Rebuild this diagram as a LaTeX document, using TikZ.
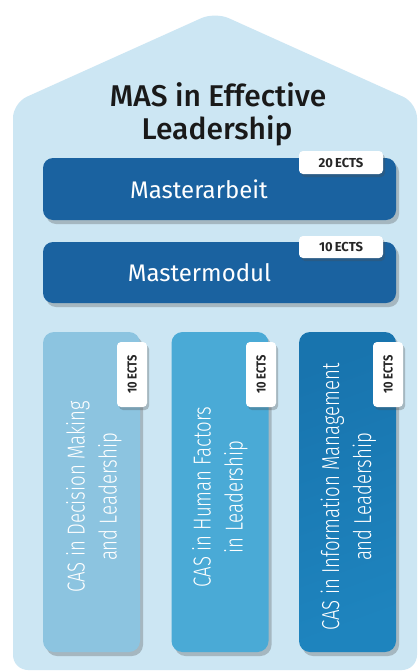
\documentclass[tikz,border=0pt]{standalone}
\usepackage{fontspec}
\setmainfont{Fira Sans}
\newfontfamily\titlefont{Fira Sans Medium}
\newfontfamily\condfont{Fira Sans Light}[FakeStretch=0.76]
\newfontfamily\badgecond{Fira Sans}[FakeStretch=0.85]
\usetikzlibrary{shadows}
\definecolor{bgblue}{RGB}{204,230,243}
\definecolor{darkblue}{RGB}{26,98,160}
\definecolor{colone}{RGB}{140,196,224}
\definecolor{coltwo}{RGB}{74,170,214}
\definecolor{colthree}{RGB}{30,132,190}
\definecolor{colthreedark}{RGB}{24,116,174}
\tikzset{
  x=1pt, y=-1pt,
  myshadow/.style={drop shadow={shadow xshift=3pt, shadow yshift=-4pt, opacity=0.3, fill=black!70}},
  modbox/.style={rounded corners=10pt, fill=darkblue, myshadow, inner sep=0pt, minimum width=353pt, minimum height=62pt},
  casbox/.style={rounded corners=11pt, inner sep=0pt, minimum width=97pt, minimum height=320pt, myshadow},
  badge/.style={rounded corners=4pt, fill=white, inner sep=0pt, drop shadow={shadow xshift=2pt, shadow yshift=-3pt, opacity=0.3, fill=black!70}, text=black!85},
  hbadge/.style={badge, minimum width=84pt, minimum height=23pt, font=\bfseries\fontsize{13}{14}\selectfont},
  vbadge/.style={badge, minimum width=65pt, minimum height=30pt, rotate=90, font=\badgecond\bfseries\fontsize{13}{14}\selectfont},
  modtext/.style={text=white, font=\fontsize{24}{26}\selectfont, anchor=base},
  castext/.style={text=white, rotate=90, align=center, font=\condfont\fontsize{24.5}{32}\selectfont},
  titletext/.style={text=black!90, font=\titlefont\fontsize{30}{33}\selectfont, anchor=base}
}
\begin{document}
\begin{tikzpicture}
\useasboundingbox (0,0) rectangle (419,672);
\fill[white] (0,0) rectangle (419,672);
% house background
\fill[bgblue, rounded corners=15pt] (13,670) -- (13,103) -- (215,12) -- (417,103) -- (417,670) -- cycle;
% title
\node[titletext] (t1) at (218,106) {MAS in Effective};
\node[titletext] (t2) at (217,139) {Leadership};
% master boxes
\node[modbox] (ma) at (219.5,189) {};
\node[modtext] (matext) at (199,198) {Masterarbeit};
\node[hbadge] (mab) at (341,162.5) {20\,ECTS};
\node[modbox, minimum height=61pt] (mm) at (219.5,272.5) {};
\node[modtext] (mmtext) at (199.5,281) {Mastermodul};
\node[hbadge, minimum height=22pt] (mmb) at (341,247) {10\,ECTS};
% CAS columns
\node[casbox, fill=colone] (c1) at (91.5,492) {};
\node[casbox, fill=coltwo] (c2) at (220,492) {};
\node[casbox, top color=colthreedark, bottom color=colthree, shading angle=20] (c3) at (347.5,492) {};
\node[castext] (c1t) at (94,497) {CAS in Decision Making\\and Leadership};
\node[castext] (c2t) at (220,497) {CAS in Human Factors\\in Leadership};
\node[castext] (c3t) at (348.5,497) {CAS in Information Management\\and Leadership};
\node[vbadge] (c1b) at (132,374.5) {10\,ECTS};
\node[vbadge] (c2b) at (261,374.5) {10\,ECTS};
\node[vbadge] (c3b) at (388,374.5) {10\,ECTS};
\end{tikzpicture}
\end{document}
